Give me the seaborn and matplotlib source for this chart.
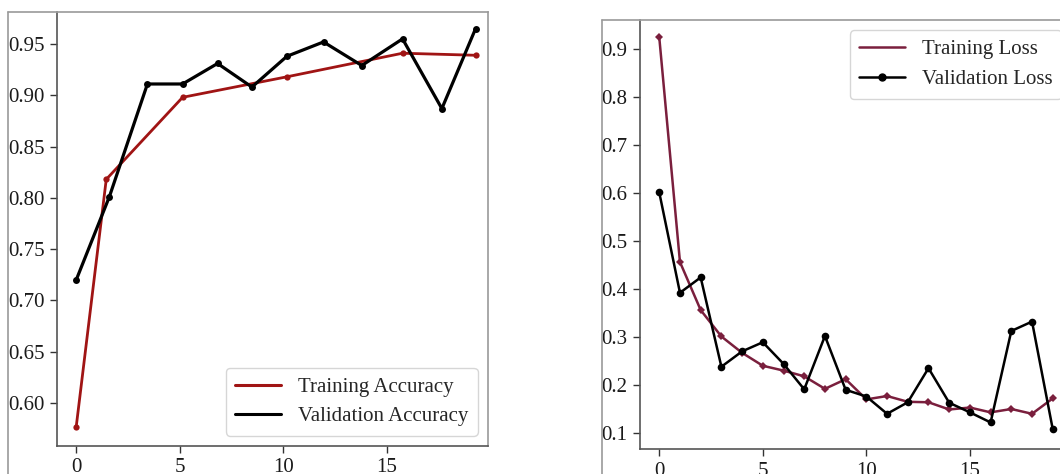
import numpy as np
import pandas as pd
import matplotlib
matplotlib.use("Agg")
import matplotlib.pyplot as plt
from matplotlib.lines import Line2D
import seaborn as sns

# ---- data ----
train_acc_x = [0, 1.45, 5.14, 10.18, 15.77, 19.3]
train_acc = [0.577, 0.818, 0.898, 0.918, 0.941, 0.939]
val_acc_x = [0, 1.6, 3.44, 5.14, 6.83, 8.49, 10.18, 11.95, 13.8, 15.77, 17.67, 19.3]
val_acc = [0.720, 0.801, 0.911, 0.911, 0.931, 0.908, 0.938, 0.952, 0.929, 0.955, 0.887, 0.965]

epochs = list(range(20))
train_loss = [0.924, 0.456, 0.356, 0.301, 0.267, 0.240, 0.230, 0.218, 0.192, 0.212,
              0.170, 0.177, 0.165, 0.164, 0.149, 0.153, 0.143, 0.150, 0.140, 0.172]
val_loss = [0.601, 0.392, 0.424, 0.238, 0.270, 0.289, 0.244, 0.191, 0.302, 0.190,
            0.176, 0.140, 0.164, 0.235, 0.163, 0.143, 0.122, 0.3125, 0.332, 0.108]

acc_labels = ["Training Accuracy", "Validation Accuracy"]
loss_labels = ["Training Loss", "Validation Loss"]
acc_yticks = [0.60, 0.65, 0.70, 0.75, 0.80, 0.85, 0.90, 0.95]
loss_yticks = [0.1, 0.2, 0.3, 0.4, 0.5, 0.6, 0.7, 0.8, 0.9]
xticks = [0, 5, 10, 15]

# ---- style ----
sns.set_theme(style="ticks")
plt.rcParams["font.family"] = ["Liberation Serif", "DejaVu Serif"]
plt.rcParams["font.size"] = 15
plt.rcParams["axes.edgecolor"] = "#555555"
plt.rcParams["xtick.color"] = "#333333"
plt.rcParams["ytick.color"] = "#333333"
plt.rcParams["xtick.labelcolor"] = "#1a1a1a"
plt.rcParams["ytick.labelcolor"] = "#1a1a1a"

RED = "#a01414"
MAROON = "#7a1f3d"
BLACK = "#000000"

W, H = 1060, 474
fig = plt.figure(figsize=(W / 100, H / 100), dpi=100)

def fx(px):
    return px / W

def fy(py):
    return 1 - py / H

axL = fig.add_axes([fx(57), fy(446), fx(488) - fx(57), fy(12) - fy(446)])
axR = fig.add_axes([fx(640), fy(449), fx(1072) - fx(640), fy(20) - fy(449)])

# ---- left: accuracy ----
dfa_t = pd.DataFrame({"x": train_acc_x, "y": train_acc})
dfa_v = pd.DataFrame({"x": val_acc_x, "y": val_acc})
sns.lineplot(data=dfa_t, x="x", y="y", ax=axL, color=RED, lw=2.0, marker="o",
             markersize=4.5, markeredgewidth=0, legend=False)
sns.lineplot(data=dfa_v, x="x", y="y", ax=axL, color=BLACK, lw=2.3, marker="o",
             markersize=5, markeredgewidth=0, legend=False)
axL.set_xlim(-0.93, 19.9)
axL.set_ylim(0.558, 0.9812)
axL.set_yticks(acc_yticks)
axL.set_yticklabels([f"{v:.2f}" for v in acc_yticks])
axL.set_xticks(xticks)
axL.set_xlabel("")
axL.set_ylabel("")
hL = [Line2D([], [], color=RED, lw=2.2), Line2D([], [], color=BLACK, lw=2.2)]
axL.legend(hL, acc_labels, loc="lower right", fontsize=15, handlelength=2.2,
           handletextpad=0.8, labelspacing=0.45, borderpad=0.45)

# ---- right: loss ----
dfl_t = pd.DataFrame({"x": epochs, "y": train_loss})
dfl_v = pd.DataFrame({"x": epochs, "y": val_loss})
sns.lineplot(data=dfl_t, x="x", y="y", ax=axR, color=MAROON, lw=1.8, marker="D",
             markersize=4.5, markeredgewidth=0, legend=False)
sns.lineplot(data=dfl_v, x="x", y="y", ax=axR, color=BLACK, lw=1.8, marker="o",
             markersize=5.5, markeredgewidth=0, legend=False)
axR.set_xlim(-0.93, 19.93)
axR.set_ylim(0.0667, 0.960)
axR.set_yticks(loss_yticks)
axR.set_yticklabels([f"{v:.1f}" for v in loss_yticks])
axR.set_xticks(xticks)
axR.set_xlabel("")
axR.set_ylabel("")
hR = [Line2D([], [], color=MAROON, lw=1.8),
      Line2D([], [], color=BLACK, lw=1.8, marker="o", markersize=5)]
axR.legend(hR, loss_labels, loc="upper right", fontsize=15, handlelength=2.2,
           handletextpad=0.8, labelspacing=0.5, borderpad=0.45)

for ax in (axL, axR):
    for s in ax.spines.values():
        s.set_linewidth(1.2)
    ax.spines["top"].set_color("#999999")
    ax.spines["right"].set_color("#999999")
    ax.tick_params(axis="both", labelsize=15, length=5, width=1, pad=4)

# outer frame lines of the screenshot
grey = "#9a9a9a"
fig.add_artist(Line2D([fx(8), fx(8)], [0, fy(12)], color=grey, lw=1.2, transform=fig.transFigure))
fig.add_artist(Line2D([fx(8), fx(57)], [fy(12), fy(12)], color=grey, lw=1.2, transform=fig.transFigure))
fig.add_artist(Line2D([fx(602), fx(602)], [0, fy(20)], color=grey, lw=1.2, transform=fig.transFigure))
fig.add_artist(Line2D([fx(602), fx(640)], [fy(20), fy(20)], color=grey, lw=1.2, transform=fig.transFigure))

fig.savefig("out.png", dpi=100)
